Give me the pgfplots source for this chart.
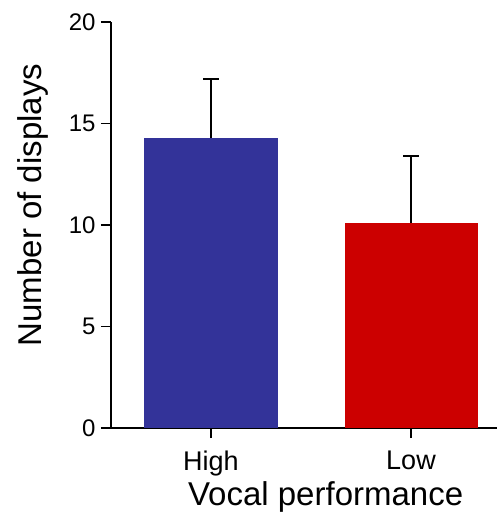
\documentclass[border=0pt]{standalone}
\usepackage{pgfplots}
\pgfplotsset{compat=1.18}
\usepackage{fontspec}
\setmainfont{Liberation Sans}
\definecolor{barblue}{HTML}{333399}
\definecolor{barred}{HTML}{CC0000}
\begin{document}
\begin{tikzpicture}
\useasboundingbox (0,0) rectangle (497pt,517pt);
\begin{axis}[
  at={(111pt,89pt)}, anchor=south west,
  scale only axis, width=386pt, height=406pt,
  xmin=-0.5, xmax=1.43, ymin=0, ymax=20,
  axis x line*=bottom, axis y line*=left,
  axis line style={line width=1.8pt},
  xtick={0,1}, xticklabels={High,Low},
  ytick={0,5,10,15,20},
  tick style={line width=1.8pt, black},
  tick align=outside,
  major tick length=10pt,
  /pgf/number format/assume math mode=true,
  yticklabel style={font=\fontsize{24}{24}\selectfont, xshift=-2pt},
  xticklabel style={font=\fontsize{27}{27}\selectfont, yshift=-9pt},
  xlabel={Vocal performance},
  ylabel={Number of displays},
  xlabel style={font=\fontsize{33}{33}\selectfont, at={(axis description cs:0.556,0)}, anchor=north, yshift=-50pt},
  ylabel style={font=\fontsize{33}{33}\selectfont, at={(axis description cs:0,0.549)}, anchor=south, yshift=59pt},
  ybar, bar width=133pt,
  error bars/y dir=plus, error bars/y explicit,
  error bars/error bar style={line width=1.8pt, black},
  error bars/error mark options={rotate=90, mark size=8pt, line width=1.8pt, black},
]
\addplot[fill=barblue, draw=none, bar shift=0pt] coordinates {(0,14.3) +- (0,2.9)};
\addplot[fill=barred, draw=none, bar shift=0pt] coordinates {(1,10.1) +- (0,3.3)};
\end{axis}
\end{tikzpicture}
\end{document}
